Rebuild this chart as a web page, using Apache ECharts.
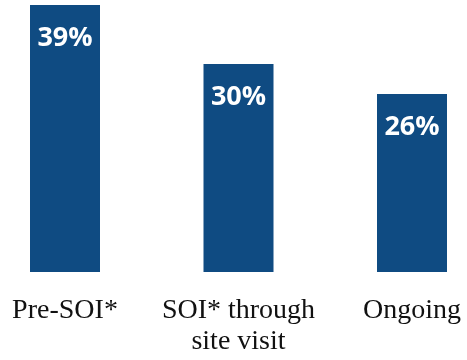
<!DOCTYPE html>
<html><head><meta charset="utf-8">
<script src="https://cdn.jsdelivr.net/npm/echarts@6/dist/echarts.min.js"></script>
<style>html,body{margin:0;padding:0;background:#fff}#c{width:467px;height:360px}</style>
</head><body><div id="c"></div>
<script>
const categories = ['Pre-SOI*', 'SOI* through\nsite visit', 'Ongoing'];
const values = [39, 30.4, 26];
const valueLabels = ['39%', '30%', '26%'];

const chart = echarts.init(document.getElementById('c'), null, {renderer: 'canvas'});
chart.setOption({
  animation: false,
  grid: {left: 65, right: 55, top: 5, bottom: 88, containLabel: false},
  xAxis: {
    type: 'category', data: categories, boundaryGap: false,
    axisLine: {show: false}, axisTick: {show: false},
    axisLabel: {interval: 0, margin: 23, color: '#111', fontFamily: 'Liberation Serif', fontSize: 28, lineHeight: 31}
  },
  yAxis: {type: 'value', min: 0, max: 39, show: false, splitLine: {show: false}},
  series: [{
    type: 'bar', data: values, barWidth: 70,
    itemStyle: {color: '#0f4b82'},
    label: {
      show: true, position: 'insideTop', distance: 20,
      formatter: p => valueLabels[p.dataIndex],
      color: '#fff', fontFamily: 'Open Sans', fontWeight: 'bold', fontSize: 27
    }
  }]
});
</script></body></html>
